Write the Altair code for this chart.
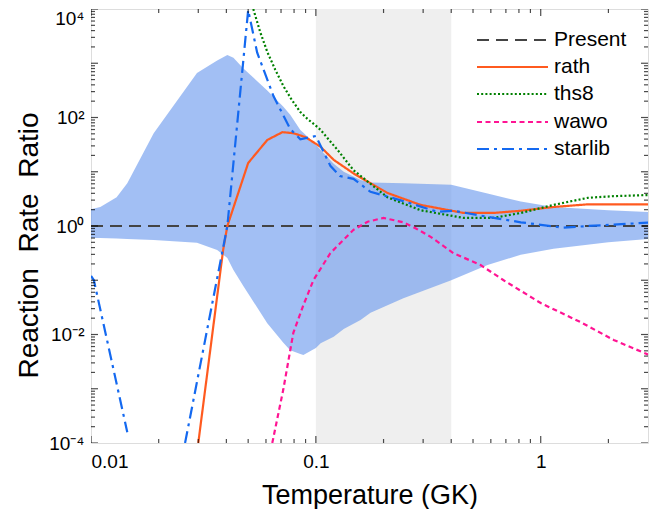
import altair as alt
import pandas as pd

# ---------------- data ----------------
series_names = ["Present", "rath", "ths8", "wawo", "starlib"]
series_colors = ["#444444", "#ff5a1f", "#008000", "#ff1493", "#1469f0"]
series_dashes = [[12, 7], [1, 0], [2, 2.2], [5, 3.5], [12, 5, 3, 5]]

present_T = [0.01, 3.0]
present_R = [1.0, 1.0]

rath_T = [0.0300, 0.0387, 0.0404, 0.0500, 0.0608, 0.0710, 0.0794, 0.0897, 0.105, 0.120,
          0.147, 0.208, 0.292, 0.454, 0.618, 0.815, 1.14, 1.62, 3.0]
rath_R = [1.0e-4, 0.363, 1.0, 14.5, 38.5, 53.7, 51.3, 43.7, 28.8, 16.6,
          9.33, 4.07, 2.45, 1.74, 1.74, 1.91, 2.24, 2.51, 2.51]

ths8_T = [0.0527, 0.0565, 0.0608, 0.066, 0.0717, 0.078, 0.0853, 0.092, 0.100, 0.105, 0.125,
          0.147, 0.208, 0.292, 0.454, 0.618, 0.815, 1.14, 1.62, 2.11, 3.0]
ths8_R = [1.0e4, 3802, 1622, 759, 380, 214, 126, 93.3, 70.8, 58.9, 25.1,
          10.7, 3.39, 1.95, 1.41, 1.41, 1.74, 2.45, 3.31, 3.55, 3.72]

wawo_T = [0.064, 0.0716, 0.0794, 0.088, 0.0975, 0.116, 0.147, 0.170, 0.200, 0.245, 0.280,
          0.324, 0.409, 0.540, 0.684, 1.0, 1.5, 2.11, 3.0]
wawo_R = [1.0e-4, 9.55e-4, 0.0107, 0.0347, 0.1, 0.316, 0.851, 1.20, 1.41, 1.17, 0.89,
          0.631, 0.316, 0.191, 0.1, 0.038, 0.017, 0.00794, 0.00427]

starlib_lo_T = [0.0100, 0.0103, 0.0145]
starlib_lo_R = [0.12, 0.1, 1.58e-4]
starlib_hi_T = [0.0262, 0.0404, 0.0500, 0.0548, 0.0647, 0.0769, 0.0853, 0.100, 0.116, 0.128,
                0.147, 0.175, 0.245, 0.348, 0.41, 0.58, 0.815, 1.26, 1.62, 3.0]
starlib_hi_R = [1.0e-4, 1.0, 9550, 1585, 251, 61.7, 39.8, 45.7, 12.9, 8.32,
                7.41, 4.27, 2.88, 1.82, 1.91, 1.48, 1.17, 0.933, 1.0, 1.15]

band_T = [0.01, 0.011, 0.013, 0.0145, 0.019, 0.0296, 0.0364, 0.0404, 0.043, 0.0475, 0.0608,
          0.0717, 0.0769, 0.0853, 0.088, 0.1, 0.105, 0.12, 0.133, 0.158, 0.175, 0.245, 0.4,
          0.58, 0.815, 1.14, 2.0, 3.0]
band_hi = [2.04, 2.24, 3.39, 6.17, 51.3, 661, 1122, 1413, 1259, 813, 316,
           158, 112, 58.9, 52.5, 31.6, 25.1, 14.1, 10.0, 7.08, 6.31, 6.17, 5.75,
           3.98, 2.82, 2.24, 1.95, 1.82]
band_lo = [0.603, 0.603, 0.589, 0.575, 0.550, 0.490, 0.363, 0.257, 0.155, 0.0794, 0.0162,
           0.00708, 0.00513, 0.00437, 0.00417, 0.00562, 0.00692, 0.00912, 0.0126, 0.0186, 0.0251, 0.0468, 0.1,
           0.191, 0.295, 0.380, 0.501, 0.575]

shade_start = [0.1]
shade_end = [0.4]

x_domain = [0.01, 3.0]
y_domain = [1e-4, 1e4]
x_label_values = [0.01, 0.1, 1]
y_label_values = [1e-4, 1e-2, 1, 1e2, 1e4]
x_major_ticks = [0.01, 0.1, 1]
x_minor_ticks = [m * d for d in [0.01, 0.1, 1] for m in range(2, 10) if m * d < 3.0]
y_major_ticks = [10.0 ** e for e in range(-4, 5)]
y_minor_ticks = [m * 10.0 ** e for e in range(-4, 4) for m in range(2, 10)]

# ---------------- tables ----------------
rows = []
for name, T, R, seg in [("Present", present_T, present_R, "a"),
                        ("rath", rath_T, rath_R, "a"),
                        ("ths8", ths8_T, ths8_R, "a"),
                        ("wawo", wawo_T, wawo_R, "a"),
                        ("starlib", starlib_lo_T, starlib_lo_R, "a"),
                        ("starlib", starlib_hi_T, starlib_hi_R, "b")]:
    for i, (t, r) in enumerate(zip(T, R)):
        rows.append({"series": name, "seg": name + seg, "T": t, "R": r, "i": i})
lines_df = pd.DataFrame(rows)
band_df = pd.DataFrame({"T": band_T, "lo": band_lo, "hi": band_hi})
shade_df = pd.DataFrame({"a": shade_start, "b": shade_end})
xt_df = pd.DataFrame({"v": x_major_ticks + x_minor_ticks,
                      "len": [14] * len(x_major_ticks) + [8] * len(x_minor_ticks)})
yt_df = pd.DataFrame({"v": y_major_ticks + y_minor_ticks,
                      "len": [14] * len(y_major_ticks) + [8] * len(y_minor_ticks)})

W, H = 557, 434
FONT = "Liberation Sans"

xscale = alt.Scale(type="log", domain=x_domain, nice=False)
yscale = alt.Scale(type="log", domain=y_domain, nice=False)

x_axis = alt.Axis(values=x_label_values, format="~g", ticks=False, domain=False, grid=False,
                  labelFontSize=19, labelFont=FONT, labelColor="black", labelPadding=9,
                  title="Temperature (GK)", titleFontSize=27, titleFont=FONT,
                  titleFontWeight="normal", titleColor="black", titlePadding=11)
y_axis = alt.Axis(values=y_label_values, ticks=False, domain=False, grid=False,
                  labelExpr="datum.value >= 1000 ? '10\u2074' : datum.value >= 10 ? '10\u00b2' : "
                            "datum.value >= 0.1 ? '10\u2070' : datum.value >= 0.001 ? '10\u207b\u00b2' : '10\u207b\u2074'",
                  labelOffset={"condition": {"test": "datum.value >= 1000", "value": 9}, "value": 0},
                  labelFontSize=19, labelFont=FONT, labelColor="black", labelPadding=7,
                  title="Reaction\u00a0 Rate\u00a0 Ratio", titleFontSize=28, titleFont=FONT,
                  titleFontWeight="normal", titleColor="black", titleX=-48, titleY=236)

shade = alt.Chart(shade_df).mark_rect(color="#efefef").encode(
    x=alt.X("a:Q", scale=xscale, axis=x_axis), x2="b:Q",
    y=alt.value(0), y2=alt.value(H))

band = alt.Chart(band_df).mark_area(color="#6495ed", opacity=0.6, clip=True).encode(
    x=alt.X("T:Q", scale=xscale, axis=x_axis),
    y=alt.Y("lo:Q", scale=yscale, axis=y_axis), y2="hi:Q")

lines = alt.Chart(lines_df).mark_line(clip=True, strokeWidth=2.2).encode(
    x=alt.X("T:Q", scale=xscale, axis=x_axis),
    y=alt.Y("R:Q", scale=yscale, axis=y_axis),
    color=alt.Color("series:N", scale=alt.Scale(domain=series_names, range=series_colors),
                    legend=None),
    strokeDash=alt.StrokeDash("series:N", scale=alt.Scale(domain=series_names, range=series_dashes),
                              legend=None),
    detail="seg:N",
    order="i:Q")

tick_style = dict(clip=True, thickness=1.2, color="black")
xt_bottom = alt.Chart(xt_df).mark_tick(orient="vertical", **tick_style).encode(
    x=alt.X("v:Q", scale=xscale, axis=x_axis), y=alt.value(H), size=alt.Size("len:Q", scale=None))
xt_top = alt.Chart(xt_df).mark_tick(orient="vertical", **tick_style).encode(
    x=alt.X("v:Q", scale=xscale, axis=x_axis), y=alt.value(0), size=alt.Size("len:Q", scale=None))
yt_left = alt.Chart(yt_df).mark_tick(orient="horizontal", **tick_style).encode(
    y=alt.Y("v:Q", scale=yscale, axis=y_axis), x=alt.value(0), size=alt.Size("len:Q", scale=None))
yt_right = alt.Chart(yt_df).mark_tick(orient="horizontal", **tick_style).encode(
    y=alt.Y("v:Q", scale=yscale, axis=y_axis), x=alt.value(W), size=alt.Size("len:Q", scale=None))

# ---------------- manual legend (layout positions in plot pixels) ----------------
leg_x0, leg_x1, leg_tx = 386, 457, 463
leg_y = [31, 58, 85, 113, 140]
legend_layers = []
for name, col, dash, yy in zip(series_names, series_colors, series_dashes, leg_y):
    legend_layers.append(
        alt.Chart(pd.DataFrame({"label": [name]})).mark_rule(
            color=col, strokeDash=dash, strokeWidth=2.2).encode(
            x=alt.value(leg_x0), x2=alt.value(leg_x1), y=alt.value(yy)))
    legend_layers.append(
        alt.Chart(pd.DataFrame({"label": [name]})).mark_text(
            align="left", baseline="middle", fontSize=21, font=FONT, color="black").encode(
            x=alt.value(leg_tx), y=alt.value(yy), text="label:N"))

chart = alt.layer(shade, band, lines, xt_bottom, xt_top, yt_left, yt_right,
                  *legend_layers).properties(
    width=W, height=H,
    autosize=alt.AutoSizeParams(type="none"),
    padding={"left": 83, "top": 1, "right": 10, "bottom": 66},
).configure_view(stroke="black", strokeWidth=2).configure(background="white")

chart.save("out.html", embed_options={"renderer": "svg", "actions": False})
